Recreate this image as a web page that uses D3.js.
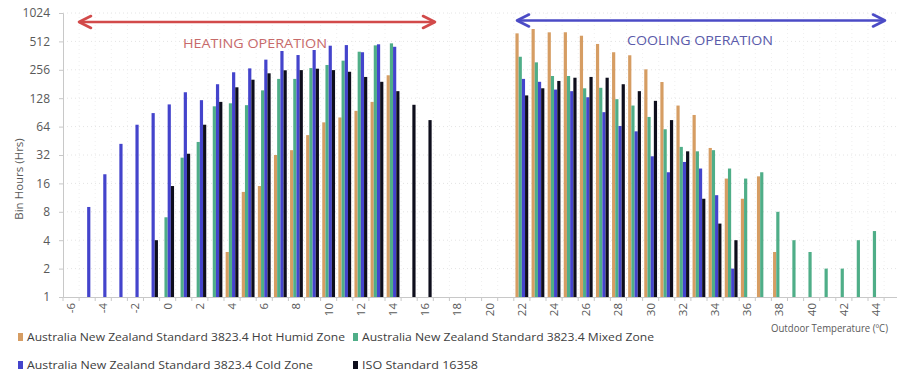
<!DOCTYPE html>
<html><head><meta charset="utf-8">
<script src="https://cdn.jsdelivr.net/npm/d3@7"></script>
<style>
html,body{margin:0;padding:0;background:#fff;}
svg{display:block;font-family:"Open Sans",sans-serif;}
</style></head><body>
<svg id="chart" width="897" height="372"></svg>
<script>
// Outdoor temperature bins (°C)
const temps = [-6,-5,-4,-3,-2,-1,0,1,2,3,4,5,6,7,8,9,10,11,12,13,14,15,16,17,18,19,
  20,21,22,23,24,25,26,27,28,29,30,31,32,33,34,35,36,37,38,39,40,41,42,43,44,45];

// Bin hours per temperature, aligned with temps (null = no hours)
const hotHumid = [null,null,null,null,null,null,null,null,null,null,
  3,13,15,32,36,52,71,80,94,117,224,
  null,null,null,null,null,null,null,
  623,693,639,640,588,481,393,365,259,190,107,85,38,18,11,19,3,
  null,null,null,null,null,null,null];
const mixed = [null,null,null,null,null,null,
  7,30,44,105,113,108,155,205,205,267,288,320,398,465,488,
  null,null,null,null,null,null,null,
  352,307,220,220,163,165,125,107,81,60,39,35,36,23,18,21,8,4,3,2,2,4,5,
  null];
const cold = [null,
  9,20,42,67,89,110,148,122,180,241,265,328,405,367,415,461,468,393,477,449,
  null,null,null,null,null,null,null,
  205,191,158,152,131,91,65,57,31,21,27,23,12,2,
  null,null,null,null,null,null,null,null,null,null];
const iso = [null,null,null,null,null,
  4,15,33,67,117,167,201,235,253,254,263,254,244,215,191,152,109,75,
  null,null,null,null,null,
  137,163,195,211,215,211,180,152,120,75,35,11,6,4,
  null,null,null,null,null,null,null,null,null,null];

const seriesNames = [
  "Australia New Zealand Standard 3823.4 Hot Humid Zone",
  "Australia New Zealand Standard 3823.4 Mixed Zone",
  "Australia New Zealand Standard 3823.4 Cold Zone",
  "ISO Standard 16358"
];
const seriesColors = ["#d69d63", "#4fae88", "#4444cc", "#0e0e1c"];
const seriesValues = [hotHumid, mixed, cold, iso];

const xTickLabels = [-6,-4,-2,0,2,4,6,8,10,12,14,16,18,20,22,24,26,28,30,32,34,36,38,40,42,44];
const yTicks = [1,2,4,8,16,32,64,128,256,512,1024];

const svg = d3.select("#chart");
const plotLeft = 63, plotTop = 13, plotBottom = 297;

const x = d3.scaleBand().domain(temps).range([plotLeft, plotLeft + temps.length * 16.1]).padding(0);
const y = d3.scaleLog().base(2).domain([1, 1024]).range([plotBottom, plotTop]);
const inner = d3.scaleBand().domain(d3.range(seriesNames.length)).range([-6.4, 6.4]);

// faint grid
const grid = svg.append("g");
grid.selectAll("line.h").data(yTicks.slice(1)).join("line")
  .attr("x1", plotLeft).attr("x2", 897)
  .attr("y1", d => y(d)).attr("y2", d => y(d))
  .attr("stroke", "#e4e4e4").attr("stroke-dasharray", "1,3");
grid.selectAll("line.v").data(temps.slice(1)).join("line")
  .attr("x1", d => x(d)).attr("x2", d => x(d))
  .attr("y1", plotTop).attr("y2", plotBottom)
  .attr("stroke", "#efefef").attr("stroke-dasharray", "1,3");

// bars
seriesValues.forEach((vals, si) => {
  const rows = temps.map((t, i) => ({t, v: vals[i]})).filter(d => d.v != null);
  svg.append("g").selectAll("rect").data(rows).join("rect")
    .attr("x", d => x(d.t) + x.bandwidth() / 2 + inner(si))
    .attr("width", inner.bandwidth())
    .attr("y", d => y(d.v))
    .attr("height", d => y(1) - y(d.v))
    .attr("fill", seriesColors[si]);
});

// y axis
const yAxis = svg.append("g").attr("transform", `translate(${plotLeft},0)`)
  .call(d3.axisLeft(y).tickValues(yTicks).tickFormat(d3.format("d")).tickSize(4).tickPadding(9));
yAxis.select(".domain").attr("stroke", "#c8c8c8");
yAxis.selectAll(".tick line").attr("stroke", "#c8c8c8");
yAxis.selectAll("text").attr("fill", "#595959").style("font-size", "12px").style("font-family", "Open Sans");

// x axis
const xAxis = svg.append("g").attr("transform", `translate(0,${plotBottom})`)
  .call(d3.axisBottom(x).tickValues(xTickLabels).tickSize(0));
xAxis.select(".domain").attr("stroke", "#c8c8c8");
xAxis.selectAll("text")
  .attr("transform", "rotate(-90)")
  .attr("text-anchor", "end")
  .attr("x", -6).attr("y", 0).attr("dy", "0.35em")
  .attr("fill", "#595959").style("font-size", "11.5px").style("font-family", "Open Sans");
svg.append("g").selectAll("line").data(temps).join("line")
  .attr("x1", d => x(d)).attr("x2", d => x(d))
  .attr("y1", plotBottom).attr("y2", plotBottom + 4)
  .attr("stroke", "#c8c8c8");

// axis titles
svg.append("text")
  .attr("transform", "translate(19,179) rotate(-90)")
  .attr("text-anchor", "middle").attr("dy", "0.35em")
  .attr("fill", "#595959").style("font-size", "11.5px")
  .text("Bin Hours (Hrs)");
svg.append("text")
  .attr("x", 771).attr("y", 328).attr("dy", "0.35em")
  .attr("fill", "#595959").style("font-size", "10.5px")
  .attr("textLength", 117).attr("lengthAdjust", "spacingAndGlyphs")
  .text("Outdoor Temperature (ºC)");

// operation arrows
function arrow(x1, x2, yy, color) {
  const g = svg.append("g").attr("stroke", color).attr("stroke-width", 2.6)
    .attr("fill", "none").attr("stroke-linecap", "round").attr("stroke-linejoin", "round");
  g.append("line").attr("x1", x1 + 1).attr("x2", x2 - 1).attr("y1", yy).attr("y2", yy);
  g.append("path").attr("d", `M${x1 + 12},${yy - 6} L${x1},${yy} L${x1 + 12},${yy + 6}`);
  g.append("path").attr("d", `M${x2 - 12},${yy - 6} L${x2},${yy} L${x2 - 12},${yy + 6}`);
}
arrow(79, 435, 22, "#d24a4a");
arrow(517, 885, 20.5, "#4b4bc6");

svg.append("text").attr("x", 183).attr("y", 43).attr("dy", "0.35em")
  .attr("fill", "#c76a6a").style("font-size", "13px")
  .attr("textLength", 144).attr("lengthAdjust", "spacingAndGlyphs")
  .text("HEATING OPERATION");
svg.append("text").attr("x", 627).attr("y", 40).attr("dy", "0.35em")
  .attr("fill", "#5a5aaa").style("font-size", "13px")
  .attr("textLength", 146).attr("lengthAdjust", "spacingAndGlyphs")
  .text("COOLING OPERATION");

// legend
const legendPos = [[18, 337], [353, 337], [18, 365], [353, 365]];
const legendWidths = [318, 292, 286, 116];
const legend = svg.append("g").selectAll("g").data(seriesNames).join("g")
  .attr("transform", (d, i) => `translate(${legendPos[i][0]},${legendPos[i][1]})`);
legend.append("rect").attr("x", 0).attr("y", -4).attr("width", 5).attr("height", 8)
  .attr("fill", (d, i) => seriesColors[i]);
legend.append("text").attr("x", 9).attr("dy", "0.35em")
  .attr("fill", "#404040").style("font-size", "11px")
  .attr("textLength", (d, i) => legendWidths[i]).attr("lengthAdjust", "spacingAndGlyphs")
  .text(d => d);
</script>
</body></html>
